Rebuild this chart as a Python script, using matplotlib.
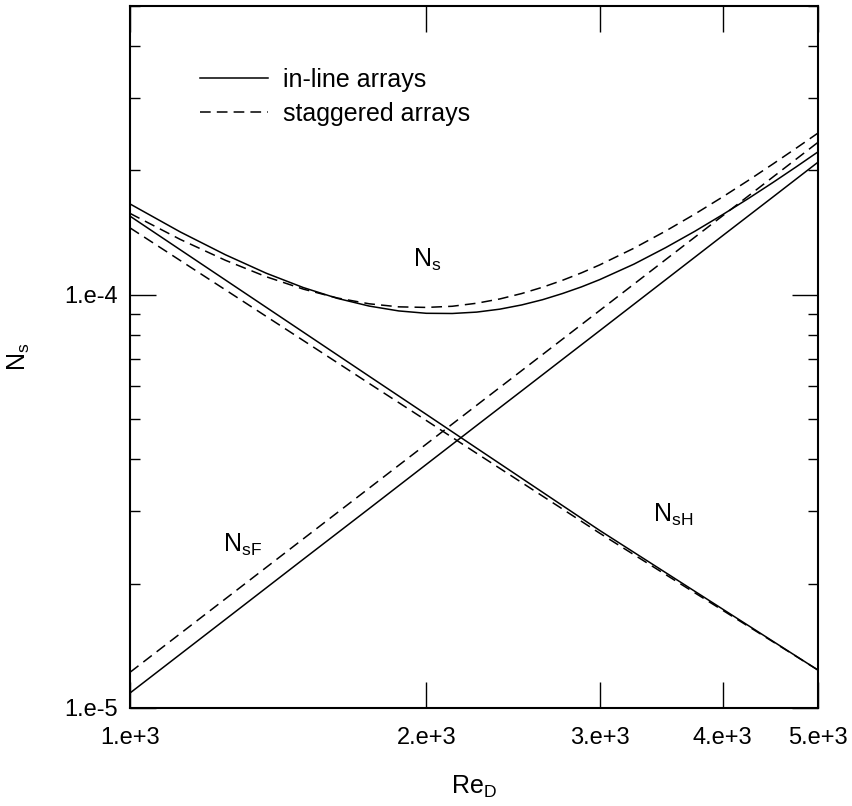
import matplotlib
matplotlib.use('Agg')
import matplotlib.pyplot as plt
from matplotlib.ticker import FixedLocator, FixedFormatter, LogLocator, NullLocator, NullFormatter

plt.rcParams['font.family'] = ['Liberation Sans', 'DejaVu Sans']
plt.rcParams['mathtext.default'] = 'regular'

# Data
# straight-ish component curves
re_d = [1000, 1250, 1500, 1750, 2000, 2250, 2500, 2750, 3000, 3500, 4000, 4500, 5000]

nsf_inline = [1.087e-5, 1.638e-5, 2.291e-5, 3.039e-5, 3.886e-5, 4.827e-5, 5.855e-5,
              6.977e-5, 8.185e-5, 1.087e-4, 1.390e-4, 1.725e-4, 2.094e-4]
nsh_inline = [1.550e-4, 1.086e-4, 8.12e-5, 6.35e-5, 5.135e-5, 4.254e-5, 3.597e-5,
              3.090e-5, 2.690e-5, 2.127e-5, 1.735e-5, 1.450e-5, 1.235e-5]
nsf_stag = [1.220e-5, 1.837e-5, 2.567e-5, 3.406e-5, 4.352e-5, 5.403e-5, 6.554e-5,
            7.807e-5, 9.159e-5, 1.216e-4, 1.553e-4, 1.928e-4, 2.339e-4]
nsh_stag = [1.452e-4, 1.028e-4, 7.75e-5, 6.10e-5, 4.963e-5, 4.133e-5, 3.512e-5,
            3.031e-5, 2.649e-5, 2.104e-5, 1.724e-5, 1.446e-5, 1.235e-5]

# total curve, read at more points since it bends
re_d_total = [1000, 1125, 1250, 1375, 1500, 1625, 1750, 1875, 2000, 2125, 2250, 2375, 2500,
              2625, 2750, 2875, 3000, 3250, 3500, 3750, 4000, 4250, 4500, 4750, 5000]
ns_inline = [1.659e-4, 1.419e-4, 1.250e-4, 1.128e-4, 1.041e-4, 9.80e-5, 9.39e-5, 9.14e-5,
             9.02e-5, 9.01e-5, 9.08e-5, 9.23e-5, 9.45e-5, 9.73e-5, 1.007e-4, 1.045e-4,
             1.088e-4, 1.186e-4, 1.300e-4, 1.4255e-4, 1.563e-4, 1.711e-4, 1.870e-4,
             2.039e-4, 2.218e-4]
ns_stag = [1.574e-4, 1.361e-4, 1.212e-4, 1.106e-4, 1.032e-4, 9.82e-5, 9.51e-5, 9.35e-5,
           9.32e-5, 9.38e-5, 9.54e-5, 9.77e-5, 1.007e-4, 1.043e-4, 1.084e-4, 1.130e-4,
           1.181e-4, 1.296e-4, 1.426e-4, 1.569e-4, 1.725e-4, 1.893e-4, 2.073e-4,
           2.263e-4, 2.463e-4]

x_ticks = [1000, 2000, 3000, 4000, 5000]
x_ticklabels = ['1.e+3', '2.e+3', '3.e+3', '4.e+3', '5.e+3']
y_ticks = [1e-5, 1e-4]
y_ticklabels = ['1.e-5', '1.e-4']

fig = plt.figure(figsize=(8.53, 8.06), dpi=100)
ax = fig.add_axes([0.1524, 0.1216, 0.8066, 0.871])

lw = 1.1
dash = (7, 4)
ax.plot(re_d_total, ns_inline, color='black', lw=lw, label='in-line arrays')
ax.plot(re_d, nsf_inline, color='black', lw=lw)
ax.plot(re_d, nsh_inline, color='black', lw=lw)
ax.plot(re_d_total, ns_stag, color='black', lw=lw, ls='--', dashes=dash, label='staggered arrays')
ax.plot(re_d, nsf_stag, color='black', lw=lw, ls='--', dashes=dash)
ax.plot(re_d, nsh_stag, color='black', lw=lw, ls='--', dashes=dash)

ax.set_xscale('log')
ax.set_yscale('log')
ax.set_xlim(1000, 5000)
ax.set_ylim(1e-5, 5e-4)

ax.xaxis.set_major_locator(FixedLocator(x_ticks))
ax.xaxis.set_major_formatter(FixedFormatter(x_ticklabels))
ax.xaxis.set_minor_locator(NullLocator())
ax.yaxis.set_major_locator(FixedLocator(y_ticks))
ax.yaxis.set_major_formatter(FixedFormatter(y_ticklabels))
ax.yaxis.set_minor_locator(LogLocator(base=10, subs=[2, 3, 4, 5, 6, 7, 8, 9]))
ax.yaxis.set_minor_formatter(NullFormatter())

ax.tick_params(which='both', direction='in', top=True, right=True, width=1.0)
ax.tick_params(which='major', length=19, labelsize=17)
ax.tick_params(axis='x', which='major', pad=14)
ax.tick_params(axis='y', which='major', pad=9)
ax.tick_params(which='minor', length=7)
for sp in ax.spines.values():
    sp.set_linewidth(1.5)

ax.set_xlabel('Re$_{D}$', fontsize=18)
ax.set_ylabel('N$_{s}$', fontsize=18)
ax.xaxis.set_label_coords(0.5, -0.094)
ax.yaxis.set_label_coords(-0.142, 0.5)

# curve labels
ax.text(0.411, 0.628, 'N$_{s}$', transform=ax.transAxes, fontsize=18, va='baseline')
ax.text(0.135, 0.222, 'N$_{sF}$', transform=ax.transAxes, fontsize=18, va='baseline')
ax.text(0.760, 0.265, 'N$_{sH}$', transform=ax.transAxes, fontsize=18, va='baseline')

ax.legend(loc='upper left', bbox_to_anchor=(0.102, 0.912), frameon=False,
          fontsize=18, handlelength=2.7, handletextpad=0.6, labelspacing=0.4,
          borderpad=0, borderaxespad=0)

plt.savefig('out.png', dpi=100)
plt.close(fig)
